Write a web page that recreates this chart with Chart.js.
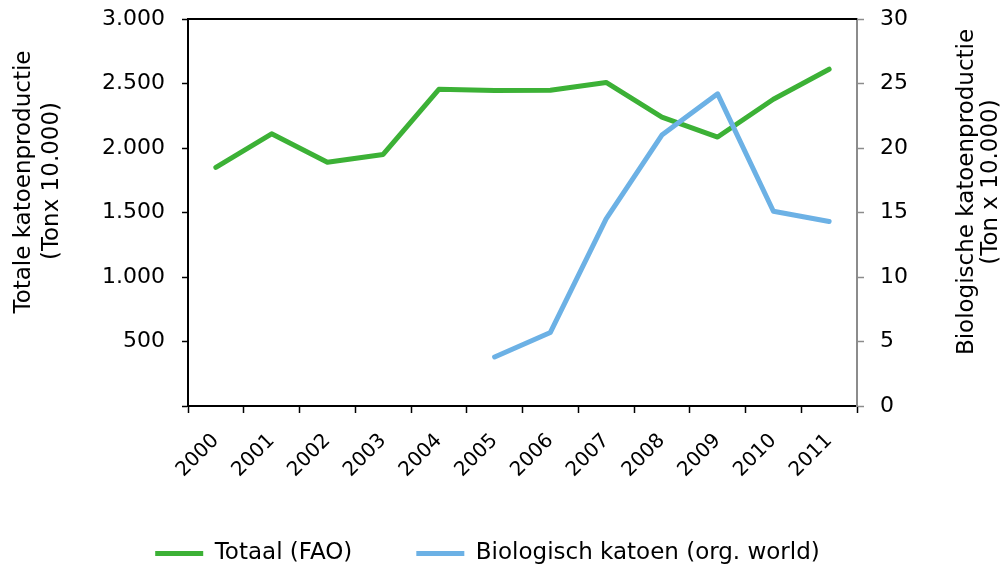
<!DOCTYPE html>
<html>
<head>
<meta charset="utf-8">
<script src="https://cdn.jsdelivr.net/npm/chart.js@4/dist/chart.umd.min.js"></script>
<style>
  html, body { margin: 0; padding: 0; background: #fff; }
  #wrap { width: 1008px; height: 567px; }
</style>
</head>
<body>
<div id="wrap"><canvas id="chart" width="1008" height="567"></canvas></div>
<script>
// categorieën en reeksen
const years = ['2000', '2001', '2002', '2003', '2004', '2005', '2006', '2007', '2008', '2009', '2010', '2011'];
const totaalFAO = [1850, 2110, 1890, 1950, 2455, 2445, 2448, 2508, 2240, 2085, 2378, 2611];
const biologischKatoen = [null, null, null, null, null, 3.8, 5.7, 14.5, 21.0, 24.2, 15.1, 14.3];

const seriesNames = ['Totaal (FAO)', 'Biologisch katoen (org. world)'];
const leftTitle = ['Totale katoenproductie', '(Tonx 10.000)'];
const rightTitle = ['Biologische katoenproductie', '(Ton x 10.000)'];

const FONT = 'DejaVu Sans';

// 3000 -> "3.000"
function dotThousands(v) {
  return String(v).replace(/\B(?=(\d{3})+(?!\d))/g, '.');
}

// bovenrand + gedraaide astitels
const framePlugin = {
  id: 'frame',
  afterDraw(chart, args, opts) {
    const ctx = chart.ctx;
    const area = chart.chartArea;
    ctx.save();
    ctx.strokeStyle = '#000';
    ctx.lineWidth = 2;
    ctx.beginPath();
    ctx.moveTo(area.left - 1, area.top);
    ctx.lineTo(area.right, area.top);
    ctx.stroke();

    ctx.fillStyle = '#000';
    ctx.font = `${opts.fontSize}px "${FONT}"`;
    ctx.textAlign = 'center';
    ctx.textBaseline = 'middle';
    opts.titles.forEach(t => {
      ctx.save();
      ctx.translate(t.x, t.y);
      ctx.rotate(-Math.PI / 2);
      ctx.fillText(t.text, 0, 0);
      ctx.restore();
    });
    ctx.restore();
  }
};

// vaste breedte, geen extra ruimte boven/onder voor de labels
function fixWidth(w) {
  return scale => {
    scale.width = w;
    scale.paddingTop = 0;
    scale.paddingBottom = 0;
  };
}

const ctx = document.getElementById('chart');
new Chart(ctx, {
  type: 'line',
  data: {
    labels: years,
    datasets: [
      {
        label: seriesNames[0],
        data: totaalFAO,
        yAxisID: 'y',
        borderColor: '#3cb136',
        backgroundColor: '#3cb136',
        borderWidth: 5,
        borderCapStyle: 'round',
        borderJoinStyle: 'round',
        pointRadius: 0,
        pointHoverRadius: 0,
        tension: 0,
        order: 1
      },
      {
        label: seriesNames[1],
        data: biologischKatoen,
        yAxisID: 'y1',
        borderColor: '#6cb1e5',
        backgroundColor: '#6cb1e5',
        borderWidth: 5,
        borderCapStyle: 'round',
        borderJoinStyle: 'round',
        pointRadius: 0,
        pointHoverRadius: 0,
        tension: 0,
        order: 0
      }
    ]
  },
  options: {
    responsive: false,
    animation: false,
    devicePixelRatio: 1,
    layout: { padding: { top: 19, left: 0, right: 33, bottom: -8 } },
    plugins: {
      tooltip: { enabled: false },
      legend: {
        position: 'bottom',
        labels: {
          usePointStyle: true,
          pointStyle: 'line',
          pointStyleWidth: 48,
          padding: 64,
          color: '#000',
          font: { family: FONT, size: 23 },
          sort: (a, b) => a.datasetIndex - b.datasetIndex
        }
      },
      frame: {
        fontSize: 23,
        titles: [
          { text: leftTitle[0], x: 24, y: 182 },
          { text: leftTitle[1], x: 52, y: 181 },
          { text: rightTitle[0], x: 967, y: 192 },
          { text: rightTitle[1], x: 991, y: 182 }
        ]
      }
    },
    scales: {
      x: {
        offset: true,
        grid: { offset: true, drawOnChartArea: false, tickLength: 7, tickColor: '#000', tickWidth: 1.5 },
        border: { color: '#000', width: 2 },
        ticks: {
          color: '#000',
          font: { family: FONT, size: 20 },
          maxRotation: 45,
          minRotation: 45,
          padding: 16,
          autoSkip: false
        },
        afterFit(scale) { scale.height = 72; }
      },
      y: {
        position: 'left',
        min: 0,
        max: 3000,
        grid: { drawOnChartArea: false, tickLength: 6, tickColor: '#000', tickWidth: 1.5 },
        border: { color: '#000', width: 2 },
        ticks: {
          stepSize: 500,
          color: '#000',
          padding: 17,
          font: { family: FONT, size: 22 },
          callback: v => (v === 0 ? '' : dotThousands(v))
        },
        afterFit: fixWidth(188)
      },
      y1: {
        position: 'right',
        min: 0,
        max: 30,
        grid: { drawOnChartArea: false, tickLength: 7, tickColor: '#8c8c8c', tickWidth: 1.5 },
        border: { color: '#8c8c8c', width: 2 },
        ticks: {
          stepSize: 5,
          color: '#000',
          padding: 16,
          font: { family: FONT, size: 22 }
        },
        afterFit: fixWidth(118)
      }
    }
  },
  plugins: [framePlugin]
});
</script>
</body>
</html>
